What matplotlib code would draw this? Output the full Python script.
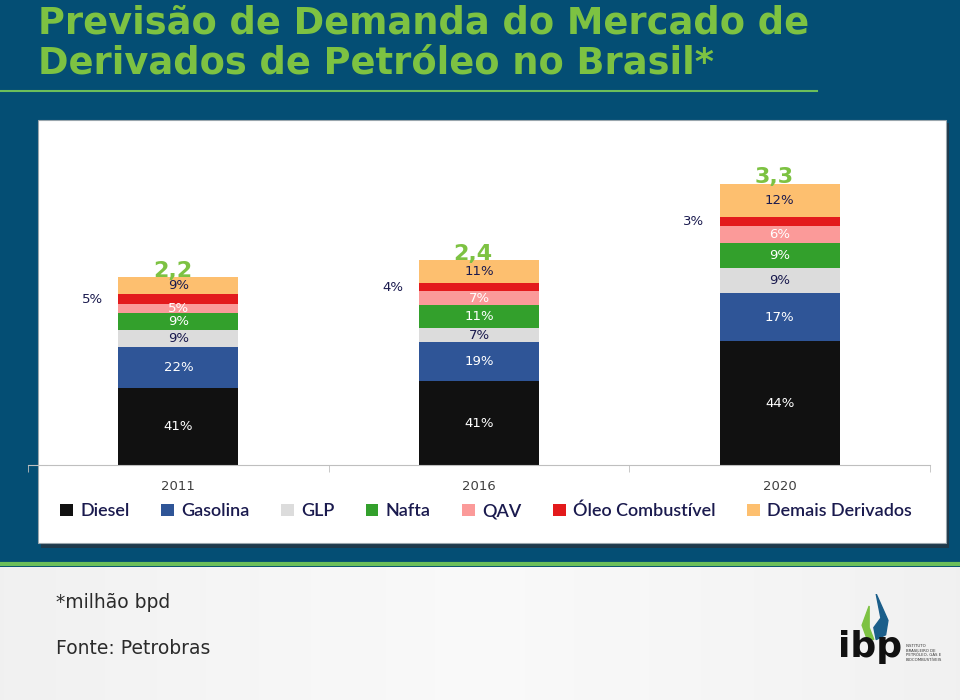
import numpy as np
import matplotlib
matplotlib.use("Agg")
import matplotlib.pyplot as plt
from matplotlib.patches import Rectangle, Polygon

# dados (milhão bpd e participação %)
anos = ['2011', '2016', '2020']
totais = [2.2, 2.4, 3.3]
rotulos_totais = ['2,2', '2,4', '3,3']
series = ['Diesel', 'Gasolina', 'GLP', 'Nafta', 'QAV', 'Óleo Combustível', 'Demais Derivados']
diesel = [41, 41, 44]
gasolina = [22, 19, 17]
glp = [9, 7, 9]
nafta = [9, 11, 9]
qav = [5, 7, 6]
oleo = [5, 4, 3]
demais = [9, 11, 12]

cores = ['#111111', '#2f5597', '#dcdcdc', '#33a02c', '#fb9a99', '#e31a1c', '#fdbf6f']
cor_texto = ['white', 'white', '#1a1a4e', 'white', 'white', '#1a1a4e', '#1a1a4e']

W, H = 960, 700
fig = plt.figure(figsize=(W / 100, H / 100), dpi=100)
fig.patch.set_facecolor('#044e74')


def box(x0, y0, x1, y1):
    # pixel box (top-left origin) -> figure fraction
    return [x0 / W, 1 - y1 / H, (x1 - x0) / W, (y1 - y0) / H]


# painel branco com sombra (fundo, atras do grafico)
axp = fig.add_axes([0, 0, 1, 1], zorder=-5)
axp.set_xlim(0, W)
axp.set_ylim(H, 0)
axp.set_axis_off()
axp.add_patch(Rectangle((41, 123), 908, 425, facecolor='#1e3a4c', edgecolor='none'))
axp.add_patch(Rectangle((38, 120), 908, 423, facecolor='white', edgecolor='#9aa6ad', lw=0.8))

# titulo
fig.text(38 / W, 1 - 23 / H, 'Previsão de Demanda do Mercado de', color='#7dc242',
         fontsize=26.5, fontweight='bold', va='center', ha='left')
fig.text(38 / W, 1 - 63 / H, 'Derivados de Petróleo no Brasil*', color='#7dc242',
         fontsize=26.5, fontweight='bold', va='center', ha='left')
fig.add_artist(plt.Line2D([0, 817 / W], [1 - 91 / H, 1 - 91 / H], color='#6cbf5a', lw=1.5,
                          transform=fig.transFigure))

# rodape em degrade
axb = fig.add_axes(box(0, 567, W, H), zorder=-5)
grad = np.linspace(0, 1, 256)[None, :]
axb.imshow(0.5 - np.abs(grad - 0.5), aspect='auto', cmap='Greys_r', vmin=-6, vmax=0.8,
           extent=[0, 1, 0, 1])
axb.set_axis_off()
fig.add_artist(plt.Line2D([0, 1], [1 - 564 / H, 1 - 564 / H], color='#6cbf5a', lw=3,
                          transform=fig.transFigure))
fig.text(56 / W, 1 - 603 / H, '*milhão bpd', fontsize=13.5, color='#2b2b2b', va='center')
fig.text(56 / W, 1 - 648 / H, 'Fonte: Petrobras', fontsize=13.5, color='#2b2b2b', va='center')

# logo ibp (aproximado)
fig.text(838 / W, 1 - 647 / H, 'ibp', fontsize=26, fontweight='bold', color='#111111',
         va='center', ha='left')
axl = fig.add_axes(box(848, 594, 895, 642))
axl.set_xlim(0, 1)
axl.set_ylim(0, 1)
axl.set_axis_off()
axl.add_patch(Polygon([[0.6, 1.0], [0.85, 0.45], [0.8, 0.15], [0.6, 0.05], [0.55, 0.3],
                       [0.7, 0.5]], closed=True, color='#1b5e8a'))
axl.add_patch(Polygon([[0.45, 0.75], [0.3, 0.35], [0.4, 0.08], [0.55, 0.05], [0.45, 0.3]],
                      closed=True, color='#7dc242'))
fig.text(906 / W, 1 - 653 / H, 'INSTITUTO\nBRASILEIRO DE\nPETRÓLEO, GÁS E\nBIOCOMBUSTÍVEIS',
         fontsize=2.8, color='#333333', va='center', ha='left', linespacing=1.2)

# grafico
ax = fig.add_axes(box(28, 130, 930, 465))
ax.set_facecolor('none')
x = np.arange(len(anos))
largura = 0.4
partes = [diesel, gasolina, glp, nafta, qav, oleo, demais]
base = np.zeros(len(anos))
for nome, pct, cor, ctxt in zip(series, partes, cores, cor_texto):
    alt = np.array(totais) * np.array(pct) / 100
    ax.bar(x, alt, largura, bottom=base, color=cor, label=nome, zorder=2)
    for i in range(len(anos)):
        yc = base[i] + alt[i] / 2
        if nome == 'Óleo Combustível':
            ax.text(x[i] - largura / 2 - 0.05, yc, f'{pct[i]}%', ha='right', va='center',
                    fontsize=9.5, color=ctxt)
        else:
            ax.text(x[i], yc, f'{pct[i]}%', ha='center', va='center', fontsize=9.5, color=ctxt)
    base = base + alt

for i in range(len(anos)):
    ax.text(x[i] - 0.02, base[i] + 0.075, rotulos_totais[i], ha='center', va='center',
            fontsize=16, fontweight='bold', color='#7dc242', zorder=3)

ax.set_xlim(-0.5, 2.5)
ax.set_ylim(0, 3.93)
ax.set_xticks(x)
ax.set_xticklabels(anos, fontsize=9.5, color='#404040')
ax.tick_params(axis='x', which='major', length=0, pad=11)
ax.set_xticks([-0.5, 0.5, 1.5, 2.5], minor=True)
ax.tick_params(axis='x', which='minor', length=5, color='#bfbfbf')
ax.set_yticks([])
for s in ['top', 'left', 'right']:
    ax.spines[s].set_visible(False)
ax.spines['bottom'].set_color('#bfbfbf')

leg = fig.legend(loc='center', bbox_to_anchor=(486 / W, 1 - 511 / H), ncol=7, frameon=False,
                 handlelength=0.7, handleheight=0.7, handletextpad=0.4, columnspacing=1.75,
                 prop={'family': 'Lato', 'size': 13, 'weight': 'semibold'})
for t in leg.get_texts():
    t.set_color('#1a1a4e')

fig.savefig('out.png', dpi=100, facecolor=fig.get_facecolor())
